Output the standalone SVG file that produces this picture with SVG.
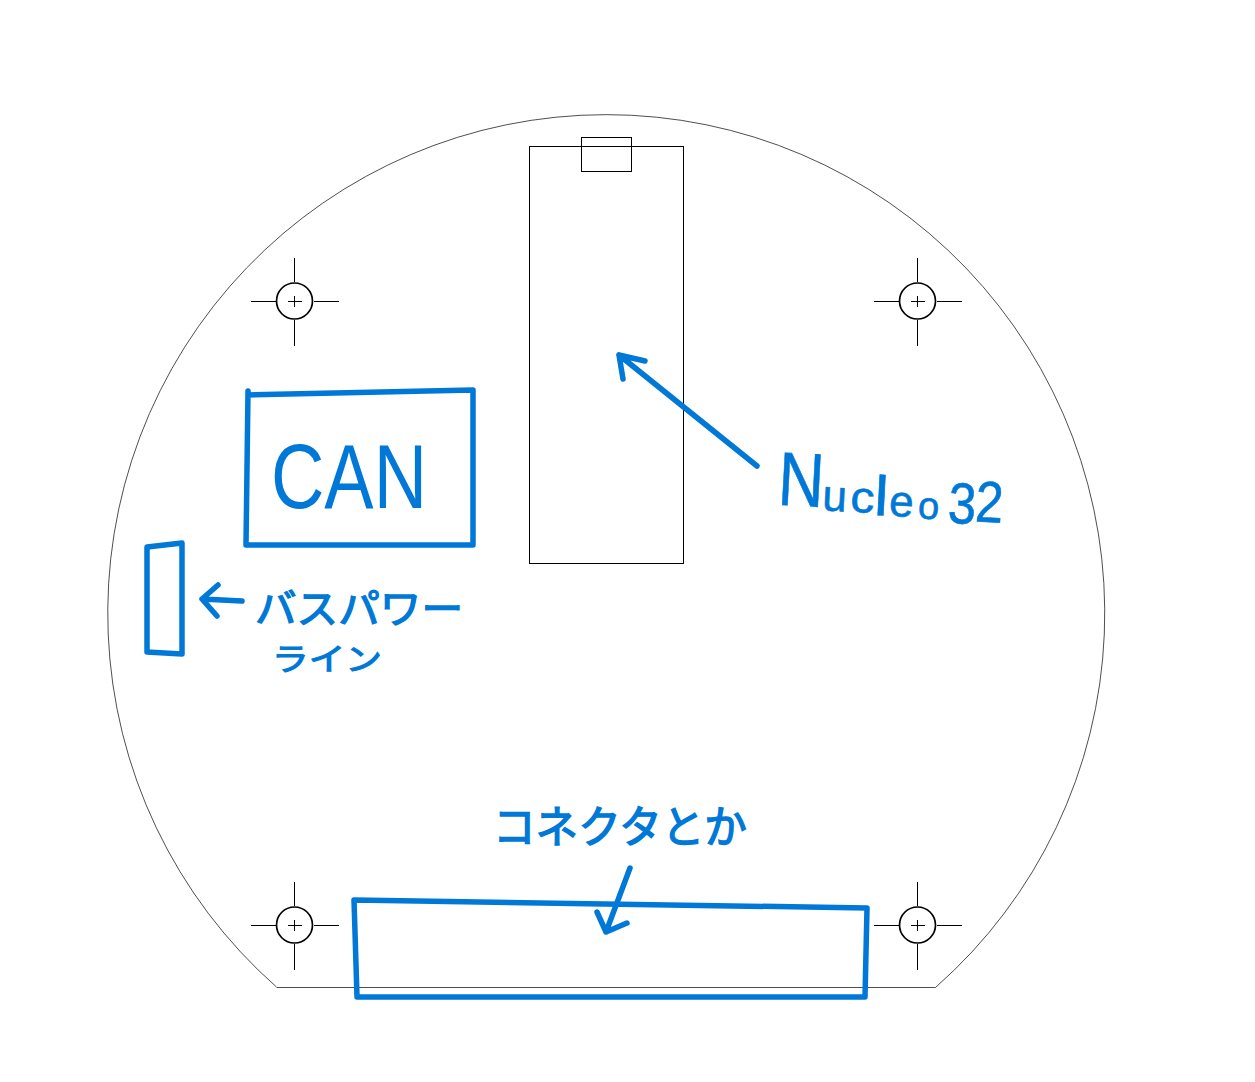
<svg xmlns="http://www.w3.org/2000/svg" width="1255" height="1082" viewBox="0 0 1255 1082">
<style>
.k{fill:none;stroke:#000;stroke-width:1}
.c{fill:none;stroke:#000;stroke-width:1.7}
.o{fill:none;stroke:#222;stroke-width:.8}
.b{fill:none;stroke:#0078d7;stroke-width:5.5;stroke-linecap:round;stroke-linejoin:round}
.t{fill:#0078d7;stroke:#0078d7;font-family:"Liberation Sans","Noto Sans CJK JP",sans-serif}
.j{font-family:"Noto Sans CJK JP",sans-serif}
</style>
<defs>
<g id="hole">
<circle class="c" r="18"/>
<path class="k" d="M-44 0H-19M-7 0H7M19 0H44M0 -43V-19M0 -5V6M0 19V45" shape-rendering="crispEdges"/>
</g>
</defs>
<rect width="1255" height="1082" fill="#fff"/>
<g id="board">
<path class="o" d="M277 987.5H935.5L936 987A498.5 498.5 0 1 0 276.5 987Z"/>
<rect class="k" x="529.5" y="146.5" width="154" height="417" shape-rendering="crispEdges"/>
<rect class="k" x="581.500" y="137.500" width="50" height="34" shape-rendering="crispEdges"/>
</g>
<g id="holes">
<use href="#hole" x="294.5" y="301"/>
<use href="#hole" x="917.5" y="301"/>
<use href="#hole" x="294.5" y="925"/>
<use href="#hole" x="917.5" y="925"/>
</g>
<g id="can">
<path class="b" d="M248 391V395L473 390V545H246L248 391"/>
<text class="t" x="271" y="508" font-size="90" stroke-width="0" textLength="156" lengthAdjust="spacingAndGlyphs">CAN</text>
</g>
<g id="bus-power">
<path class="b" d="M147 547L182 543V654L147 652Z"/>
<text class="t j" x="255" y="623" font-size="40" stroke-width="1.4" textLength="208" lengthAdjust="spacingAndGlyphs">バスパワー</text>
<text class="t j" x="272" y="670" font-size="31" stroke-width="1.2" textLength="110" lengthAdjust="spacingAndGlyphs">ライン</text>
</g>
<g id="nucleo">
<text class="t" stroke-width="0.6" transform="rotate(3 780 505)"><tspan x="777" y="505" font-size="76" textLength="46" lengthAdjust="spacingAndGlyphs">N</tspan><tspan x="822" y="508" font-size="44">u</tspan><tspan x="850" y="508" font-size="44" textLength="24" lengthAdjust="spacingAndGlyphs">c</tspan><tspan x="874" y="510" font-size="56" textLength="14" lengthAdjust="spacingAndGlyphs">l</tspan><tspan x="889" y="510" font-size="44">e</tspan><tspan x="918" y="511" font-size="38">o</tspan><tspan x="948" y="514" font-size="58" textLength="28" lengthAdjust="spacingAndGlyphs">3</tspan><tspan x="975" y="511" font-size="58" textLength="28" lengthAdjust="spacingAndGlyphs">2</tspan></text>
</g>
<g id="connector">
<path class="b" d="M354 900L867 908L865 997H357Z"/>
<text class="t j" x="493" y="843" font-size="44" stroke-width="1.4" textLength="254" lengthAdjust="spacingAndGlyphs">コネクタとか</text>
</g>
<g id="connectors">
<path class="b" d="M757 466L619 355M623 379L619 355L645 361"/>
<path class="b" d="M242 601L202 599M218 585L202 599L217 616"/>
<path class="b" d="M630 868L606 932M597 912L606 932L627 923"/>
</g>
</svg>
